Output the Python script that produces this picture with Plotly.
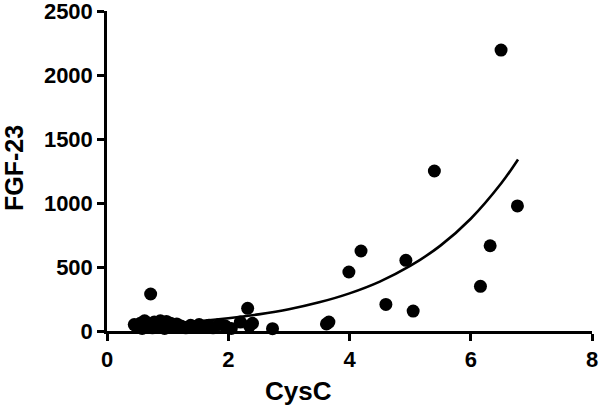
import plotly.graph_objects as go

# Scatter data (CysC vs FGF-23)
cysc = [0.45, 0.50, 0.55, 0.58, 0.62, 0.65, 0.70, 0.72, 0.75, 0.78, 0.82, 0.85,
        0.88, 0.92, 0.95, 0.98, 1.02, 1.05, 1.10, 1.15, 1.22, 1.30, 1.38, 1.45,
        1.52, 1.60, 1.68, 1.75, 1.85, 1.95, 2.05, 2.20, 2.32, 2.35, 2.40, 2.73,
        3.62, 3.66, 3.99, 4.19, 4.60, 4.93, 5.05, 5.40, 6.16, 6.32, 6.50, 6.77]
fgf23 = [50, 30, 60, 20, 80, 40, 55, 289, 25, 70, 45, 30,
         80, 50, 20, 75, 40, 60, 30, 55, 40, 25, 45, 30,
         50, 35, 45, 25, 50, 40, 20, 70, 177, 40, 60, 18,
         55, 70, 461, 625, 208, 552, 156, 1250, 349, 666, 2195, 977]

# Fitted exponential curve
curve_x = [0.45, 1.0, 1.5, 2.0, 2.5, 3.0, 3.5, 4.0, 4.5, 5.0, 5.5, 6.0, 6.5, 6.78]
curve_y = [42, 57, 75, 99, 130, 170, 224, 294, 386, 508, 667, 877, 1152, 1340]

x_ticks = [0, 2, 4, 6, 8]
y_ticks = [0, 500, 1000, 1500, 2000, 2500]

FONT = "Arial, Liberation Sans, sans-serif"

fig = go.Figure()
fig.add_trace(go.Scatter(x=curve_x, y=curve_y, mode="lines", line_shape="spline",
                         line=dict(color="black", width=2.6), cliponaxis=False,
                         hoverinfo="skip", showlegend=False))
fig.add_trace(go.Scatter(x=cysc, y=fgf23, mode="markers",
                         marker=dict(color="black", size=13, line=dict(width=0)),
                         cliponaxis=False, showlegend=False))

axis_common = dict(showgrid=False, zeroline=False, showline=True, linecolor="black",
                   linewidth=2.5, ticks="outside", ticklen=7, tickwidth=2.5,
                   tickcolor="black", automargin=False, ticklabeloverflow="allow",
                   tickfont=dict(family=FONT, size=22, color="black", weight="bold"))

fig.update_layout(
    width=600, height=409,
    margin=dict(l=107, r=8, t=11, b=78),
    plot_bgcolor="white", paper_bgcolor="white",
    xaxis=dict(range=[0, 8], tickvals=x_ticks, **axis_common),
    yaxis=dict(range=[0, 2500], tickvals=y_ticks, **axis_common),
    annotations=[
        dict(text="<b>CysC</b>", xref="paper", yref="paper", x=0.394, y=-0.1875,
             xanchor="center", yanchor="middle", showarrow=False,
             font=dict(family=FONT, size=26, color="black")),
        dict(text="<b>FGF-23</b>", xref="paper", yref="paper", x=-0.192, y=0.509,
             xanchor="center", yanchor="middle", showarrow=False, textangle=-90,
             font=dict(family=FONT, size=25, color="black")),
    ],
)

fig.write_html("out.html", config={"displayModeBar": False},
               post_script="document.body.style.margin='0';document.body.style.overflow='hidden';")
